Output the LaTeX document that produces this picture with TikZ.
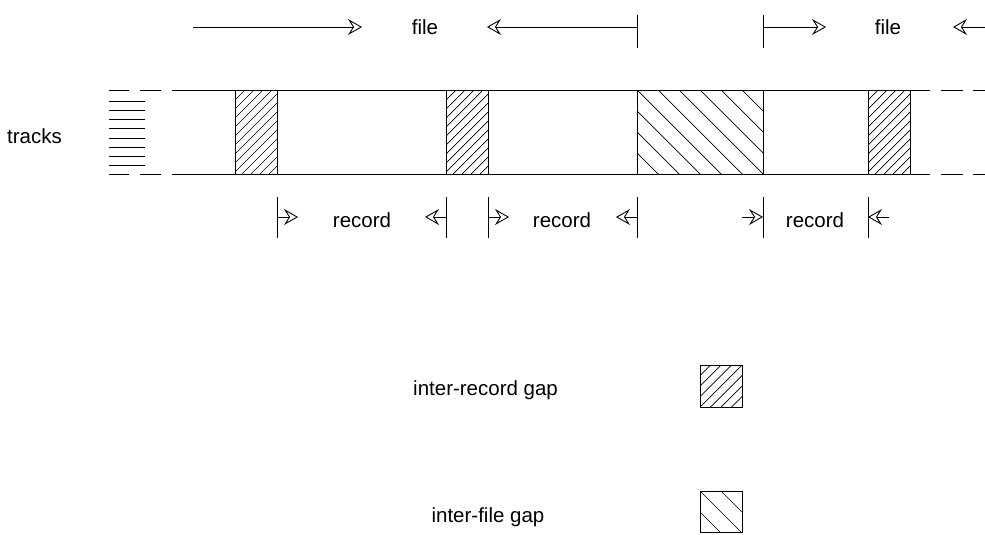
\documentclass[tikz,border=0pt]{standalone}
\usepackage{fontspec}
\setmainfont{Liberation Sans}
\usetikzlibrary{arrows.meta}
\tikzset{
  lbl/.style={inner sep=0pt, anchor=base, font=\fontsize{20.5}{24}\selectfont},
  ln/.style={line width=0.9pt, black},
  dimarrow/.style={ln, -{Stealth[open,length=14pt,width=16pt,inset=5pt]}},
  hatch/.style={line width=0.7pt, black},
}
\begin{document}
\begin{tikzpicture}[x=1pt,y=-1pt]
\useasboundingbox (0,0) rectangle (985,535);
% ---------- track band ----------
\coordinate (tl) at (172,90);  \coordinate (tr) at (930,90);
\coordinate (bl) at (172,174); \coordinate (br) at (930,174);
\draw[ln] (tl) -- (tr);
\draw[ln] (bl) -- (br);
\foreach \y in {90,174}{
  \draw[ln] (109,\y) -- (129,\y);
  \draw[ln] (140,\y) -- (161,\y);
  \draw[ln] (941,\y) -- (963,\y);
  \draw[ln] (973,\y) -- (985,\y);
}
\foreach \y in {101,110,119,128,138,147,156,165}{
  \draw[ln] (109,\y) -- (145,\y);
}
\node[lbl] (tracks) at (34.5,143) {tracks};
% ---------- inter-record gaps ----------
\foreach \xa/\xb in {235/277, 446/488, 868/910}{
  \begin{scope}
    \clip (\xa,90) rectangle (\xb,174);
    \foreach \k in {-92,-83,...,50}{
      \draw[hatch] (\xa+\k,174) -- ++(100,-100);
    }
  \end{scope}
}
\foreach \xa/\xb in {235/277, 446/488, 868/910}{
  \draw[ln] (\xa,90) -- (\xa,174);
  \draw[ln] (\xb,90) -- (\xb,174);
}
% ---------- inter-file gap ----------
\begin{scope}
  \clip (637,90) rectangle (763,174);
  \foreach \k in {-84,-63,...,126}{
    \draw[hatch] (637+\k,90) -- ++(100,100);
  }
\end{scope}
\draw[ln] (637,90) -- (637,174);
\draw[ln] (763,90) -- (763,174);
% ---------- file arrows ----------
\coordinate (fa1s) at (193,27); \coordinate (fa1e) at (362,27);
\coordinate (fb1t) at (637,15); \coordinate (fb1b) at (637,48);
\coordinate (fa2s) at (637,27); \coordinate (fa2e) at (487,27);
\coordinate (fb2t) at (763,15); \coordinate (fb2b) at (763,48);
\coordinate (fa3s) at (763,27); \coordinate (fa3e) at (826,27);
\coordinate (fa4s) at (985,27); \coordinate (fa4e) at (953,27);
\draw[dimarrow] (fa1s) -- (fa1e);
\draw[dimarrow] (fa2s) -- (fa2e);
\draw[dimarrow] (fa3s) -- (fa3e);
\draw[dimarrow] (fa4s) -- (fa4e);
\draw[ln] (fb1t) -- (fb1b);
\draw[ln] (fb2t) -- (fb2b);
\node[lbl] (file1) at (425,35) {file};
\node[lbl] (file2) at (888,35) {file};
% ---------- record arrows ----------
\foreach \x/\n in {277/r1, 446/r2, 488/r3, 637/r4, 763/r5, 868/r6}{
  \coordinate (\n t) at (\x,197);
  \coordinate (\n b) at (\x,238);
  \coordinate (\n m) at (\x,217);
  \draw[ln] (\n t) -- (\n b);
}
\coordinate (ra1) at (298,217);
\coordinate (ra2) at (425,217);
\coordinate (ra3) at (509,217);
\coordinate (ra4) at (616,217);
\coordinate (ra5) at (742,217);
\coordinate (ra6) at (889,217);
\draw[dimarrow] (r1m) -- (ra1);
\draw[dimarrow] (r2m) -- (ra2);
\draw[dimarrow] (r3m) -- (ra3);
\draw[dimarrow] (r4m) -- (ra4);
\draw[dimarrow] (ra5) -- (r5m);
\draw[dimarrow] (ra6) -- (r6m);
\node[lbl] (rec1) at (362,227) {record};
\node[lbl] (rec2) at (562,227) {record};
\node[lbl] (rec3) at (815,227) {record};
% ---------- legend ----------
\node[lbl, anchor=base west] (leg1) at (413,395) {inter-record gap};
\node[lbl] (leg2) at (488,522) {inter-file gap};
\begin{scope}
  \clip (700,365) rectangle (742,407);
  \foreach \k in {0,10.5,...,90}{
    \draw[hatch] (700+\k,365) -- ++(-100,100);
  }
\end{scope}
\draw[ln] (700,365) rectangle (742,407);
\begin{scope}
  \clip (700,491) rectangle (742,532);
  \foreach \k in {-42,-21,...,42}{
    \draw[hatch] (700+\k,491) -- ++(100,100);
  }
\end{scope}
\draw[ln] (700,491) rectangle (742,532);
\end{tikzpicture}
\end{document}
